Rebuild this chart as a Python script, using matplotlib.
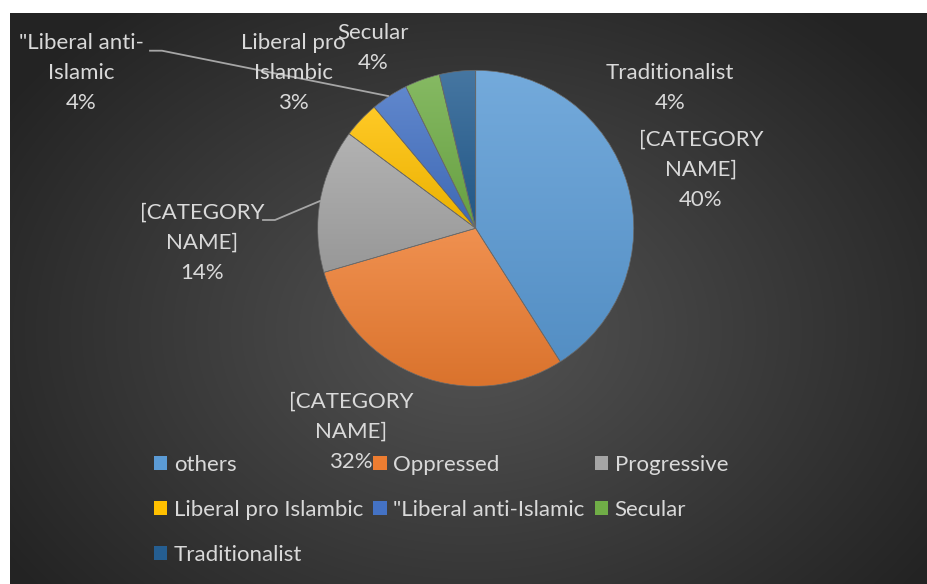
import numpy as np
import matplotlib.pyplot as plt
from matplotlib.colors import to_rgb
from matplotlib.lines import Line2D
from matplotlib.patches import Patch

plt.rcParams['font.family'] = ['Lato', 'DejaVu Sans']

# data (slices go clockwise from 12 o'clock)
categories = ['others', 'Oppressed', 'Progressive', 'Liberal pro Islambic',
              '"Liberal anti-Islamic', 'Secular', 'Traditionalist']
shares = [41.0, 29.5, 14.7, 3.7, 3.8, 3.6, 3.7]
pct_labels = ['40%', '32%', '14%', '3%', '4%', '4%', '4%']
label_names = ['[CATEGORY\nNAME]', '[CATEGORY\nNAME]', '[CATEGORY\nNAME]',
               'Liberal pro\nIslambic', '"Liberal anti-\nIslamic', 'Secular', 'Traditionalist']
colors = ['#5B9BD5', '#ED7D31', '#A5A5A5', '#FFC000', '#4472C4', '#70AD47', '#255E91']

W, H = 928, 584
txt_color = '#D9D9D9'
fs = 16


def fx(x):
    return x / W


def fy(y):
    return 1 - y / H


fig = plt.figure(figsize=(W / 100, H / 100), dpi=100)
fig.patch.set_facecolor('white')

# --- dark radial background of the chart area
bg = fig.add_axes([fx(10), 0, 1 - fx(10), fy(13)])
bg.axis('off')
yy, xx = np.mgrid[13:H, 10:W]
d = np.sqrt(((xx - 470) / 560.0) ** 2 + ((yy - 330) / 420.0) ** 2)
d = np.clip(d, 0, 1)
inner, outer = np.array(to_rgb('#545454')), np.array(to_rgb('#232323'))
bg.imshow(inner + (outer - inner) * d[..., None], extent=(0, 1, 0, 1),
          aspect='auto', interpolation='bilinear')

# --- pie
R = 158
cx, cy = 475.7, 228.3
ax = fig.add_axes([fx(cx - R), fy(cy + R), 2 * R / W, 2 * R / H])
wedges, _ = ax.pie(shares, startangle=90, counterclock=False, colors=colors,
                   wedgeprops=dict(edgecolor='#6a6a6a', linewidth=0.5))

# vertical gradient inside every slice
for w, c in zip(wedges, colors):
    x0, y0, x1, y1 = w.get_path().get_extents().extents
    base = np.array(to_rgb(c))
    top = base + (1 - base) * 0.15
    bot = base * 0.92
    t = np.linspace(0, 1, 64)[:, None, None]
    grad = np.repeat(top + (bot - top) * t, 2, axis=1)
    im = ax.imshow(grad, extent=(x0, x1, y0, y1), aspect='auto',
                   interpolation='bilinear', zorder=w.get_zorder() - 0.1)
    im.set_clip_path(w)
    w.set_facecolor('none')

ax.set_xlim(-1, 1)
ax.set_ylim(-1, 1)
ax.set_aspect('equal')
ax.axis('off')

# --- data labels
label_pos = [(701, 170), (351, 432), (202, 243), (293, 73), (81, 73), (373, 48), (670, 88)]
for name, pct, (x, y) in zip(label_names, pct_labels, label_pos):
    fig.text(fx(x), fy(y), f'{name}\n{pct}', ha='center', va='center',
             multialignment='center', color=txt_color, fontsize=fs, linespacing=1.62)

# leader lines
leaders = [[(263, 220), (275, 220), (320, 201)],
           [(150, 50.7), (162, 50.7), (388, 96)]]
for pts in leaders:
    xs = [fx(p[0]) for p in pts]
    ys = [fy(p[1]) for p in pts]
    fig.add_artist(Line2D(xs, ys, color='#A6A6A6', lw=1.3))

# --- legend (row-major order like the original)
order = [0, 3, 6, 1, 4, 2, 5]
handles = [Patch(facecolor=colors[i], edgecolor='none') for i in order]
fig.legend(handles, [categories[i] for i in order], ncol=3, loc='upper left',
           bbox_to_anchor=(fx(154), fy(455)), frameon=False, fontsize=fs,
           labelcolor=txt_color, handlelength=0.6, handleheight=0.6,
           handletextpad=0.3, columnspacing=0.45, labelspacing=1.12,
           borderpad=0, borderaxespad=0)

fig.savefig('out.png', dpi=100)
